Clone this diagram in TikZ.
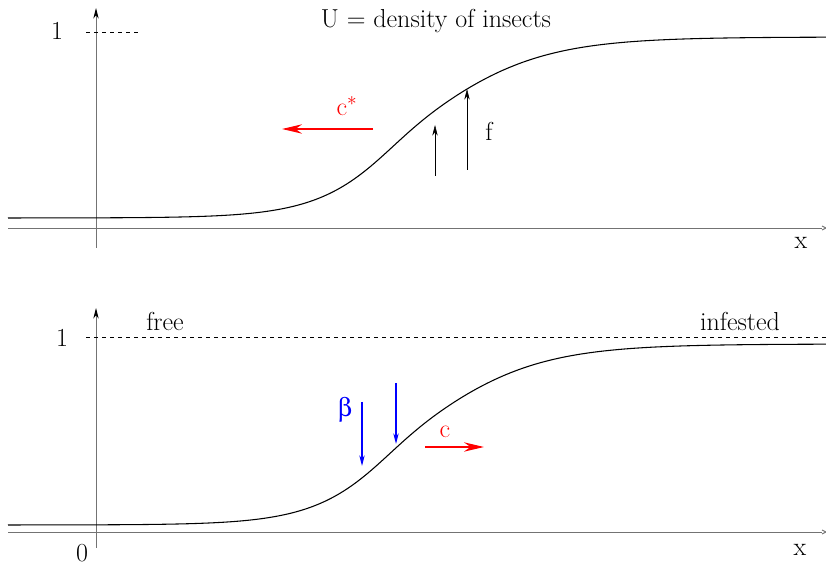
\documentclass[tikz,border=0pt]{standalone}
\usepackage[Symbol]{upgreek}
\usetikzlibrary{arrows.meta}
\tikzset{
  axis/.style={draw=black!55, line width=0.7pt},
  curve/.style={line width=0.8pt},
  lbl/.style={font=\fontsize{19.5}{24}\selectfont},
  bigtip/.style={-{Stealth[length=15pt,width=7pt]}},
  smalltip/.style={-{Stealth[length=8pt,width=4pt]}},
  axistip/.style={-{Stealth[length=8pt,width=4pt,black]}}
}
\begin{document}
\begin{tikzpicture}[x=0.75pt,y=-0.75pt]
  \useasboundingbox (0,0) rectangle (826,566);
  % Upper panel: axes
  \draw[axis] (8,228) -- (822,228);
  \draw[axis] (822,226) -- (826,228) -- (822,230);
  \draw[axis,axistip] (96,248) -- (96,8);
  \draw[dashed] (86,32) -- (140,32);
  \node[lbl] (one1) at (57,31) {1};
  \node[lbl] (x1) at (801,243) {x};
  \node[lbl] (title) at (436,21) {U = density of insects};
  % Upper panel: front
  \draw[curve] plot[domain=8:826,samples=240,variable=\t]
    (\t,{218-181/(1+exp(-(\t-414)/(52.5+7.5*tanh((\t-414)/50))))});
  % c* and f
  \draw[red,line width=1pt,bigtip] (373,129) -- (282,129);
  \node[lbl,red] (cstar) at (347,106) {c$^{\ast}$};
  \draw[smalltip] (435,176) -- (435,125);
  \draw[smalltip] (467,170) -- (467,89);
  \node[lbl] (f) at (489,131) {f};
  % Lower panel: axes
  \draw[axis] (8,532) -- (822,532);
  \draw[axis] (822,530) -- (826,532) -- (822,534);
  \draw[axis,axistip] (96,548) -- (96,308);
  \draw[dashed] (86,337) -- (826,337);
  \node[lbl] (one2) at (62,338) {1};
  \node[lbl] (zero) at (82,553) {0};
  \node[lbl] (x2) at (800,550) {x};
  \node[lbl] (free) at (165,321) {free};
  \node[lbl] (infested) at (740,321) {infested};
  % Lower panel: front
  \draw[curve] plot[domain=8:826,samples=240,variable=\t]
    (\t,{525-181/(1+exp(-(\t-411)/(52.5+7.5*tanh((\t-411)/50))))});
  % beta and c
  \draw[blue,line width=0.8pt,smalltip] (362,402) -- (362,466);
  \draw[blue,line width=0.8pt,smalltip] (396,383) -- (396,444);
  \node[lbl,blue] (beta) at (345,410) {$\upbeta$};
  \draw[red,line width=1pt,bigtip] (425,447) -- (484,447);
  \node[lbl,red] (c) at (445,432) {c};
\end{tikzpicture}
\end{document}
